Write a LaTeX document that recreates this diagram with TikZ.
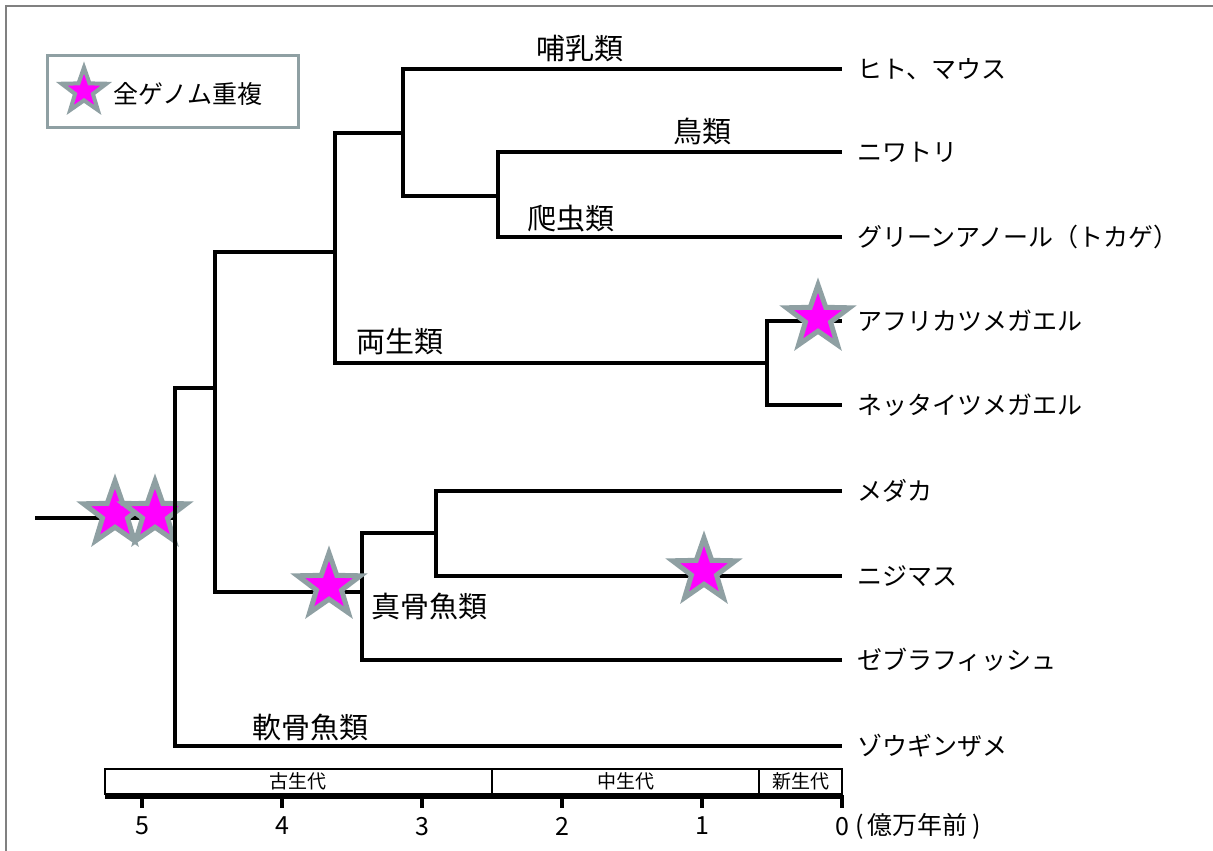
\documentclass[tikz,border=0pt]{standalone}
\usepackage{fontspec}
\newfontfamily\jp{Noto Sans CJK JP}
\usetikzlibrary{shapes.geometric}
\definecolor{wgdfill}{RGB}{255,0,255}
\definecolor{wgdline}{RGB}{143,160,163}
\definecolor{framegray}{RGB}{128,128,128}

\begin{document}
\begin{tikzpicture}[x=1pt,y=-1pt,
  treeline/.style={line width=4pt,line join=miter},
  leaf/.style={anchor=west,inner xsep=15pt,inner ysep=0pt,font=\jp\fontsize{25}{30}\selectfont},
  clade/.style={inner sep=0pt,font=\jp\fontsize{29}{34}\selectfont},
  era/.style={inner sep=0pt,font=\jp\fontsize{19}{23}\selectfont},
  ticklabel/.style={inner sep=0pt,font=\jp\fontsize{25}{30}\selectfont},
  wgd/.style={star,star points=5,star point ratio=2.5,fill=wgdfill,draw=wgdline,
    line width=5pt,inner sep=0pt,minimum size=66pt}]
  \useasboundingbox (0,0) rectangle (1213,851);
  \draw[framegray,line width=2pt] (6,851) -- (6,6) -- (1213,6);

  % legend
  \node[draw=wgdline,line width=3pt,minimum width=251pt,minimum height=72pt,inner sep=0pt] (legend) at (173,91.5) {};
  \node[wgd,line width=4pt,minimum size=47pt] (legendstar) at (84,91) {};
  \node[anchor=west,inner sep=0pt,font=\jp\fontsize{25}{30}\selectfont] (legendtext) at (113,94) {全ゲノム重複};

  % branch points
  \coordinate (stem) at (35,518);
  \coordinate (n1) at (175,518);
  \coordinate (n2) at (215,388);
  \coordinate (n3) at (335,252);
  \coordinate (n4) at (403,133);
  \coordinate (n5) at (498,196);
  \coordinate (n6) at (767,363);
  \coordinate (n7) at (362,592);
  \coordinate (n8) at (436,533);

  % species
  \node[leaf] (human) at (842,69) {ヒト、マウス};
  \node[leaf] (chicken) at (842,152) {ニワトリ};
  \node[leaf] (anole) at (842,237) {グリーンアノール（トカゲ）};
  \node[leaf] (laevis) at (842,321) {アフリカツメガエル};
  \node[leaf] (tropicalis) at (842,405) {ネッタイツメガエル};
  \node[leaf] (medaka) at (842,491) {メダカ};
  \node[leaf] (trout) at (842,576) {ニジマス};
  \node[leaf] (zebrafish) at (842,660) {ゼブラフィッシュ};
  \node[leaf] (shark) at (842,746) {ゾウギンザメ};

  % tree
  \draw[treeline] (stem) -- (n1);
  \node[wgd] (wgdroota) at (115,514) {};
  \node[wgd] (wgdrootb) at (155,514) {};
  \draw[treeline] (n1) |- (n2);
  \draw[treeline] (n1) |- (shark.west);
  \draw[treeline] (n2) |- (n3);
  \draw[treeline] (n2) |- (n7);
  \draw[treeline] (n3) |- (n4);
  \draw[treeline] (n3) |- (n6);
  \draw[treeline] (n4) |- (human.west);
  \draw[treeline] (n4) |- (n5);
  \draw[treeline] (n5) |- (chicken.west);
  \draw[treeline] (n5) |- (anole.west);
  \draw[treeline] (n6) |- (laevis.west);
  \draw[treeline] (n6) |- (tropicalis.west);
  \draw[treeline] (n7) |- (n8);
  \draw[treeline] (n7) |- (zebrafish.west);
  \draw[treeline] (n8) |- (medaka.west);
  \draw[treeline] (n8) |- (trout.west);

  % duplications
  \node[wgd] (wgdfrog) at (818,318) {};
  \node[wgd] (wgdteleost) at (329,586) {};
  \node[wgd] (wgdtrout) at (704,571) {};

  % clade names
  \node[clade] (mammals) at (580,48) {哺乳類};
  \node[clade] (birds) at (702,131) {鳥類};
  \node[clade] (reptiles) at (571,219) {爬虫類};
  \node[clade] (amphibians) at (400,342) {両生類};
  \node[clade] (teleosts) at (429,606) {真骨魚類};
  \node[clade] (cartilage) at (310,727) {軟骨魚類};

  % time scale
  \draw[line width=1.5pt] (105,769) rectangle (842,794);
  \draw[line width=1.5pt] (492,769) -- (492,794);
  \draw[line width=1.5pt] (759,769) -- (759,794);
  \node[era] (paleo) at (298,781) {古生代};
  \node[era] (meso) at (626,781) {中生代};
  \node[era] (ceno) at (801,781) {新生代};
  \draw[line width=4pt] (105,797) -- (844,797);
  \foreach \k in {0,...,5}
    \draw[line width=4pt] (842-140*\k,797) -- (842-140*\k,808)
      node[ticklabel,anchor=north] at (842-140*\k,815) {\k};
  \node[anchor=west,inner sep=0pt,font=\jp\fontsize{25}{30}\selectfont] (unit) at (855,826) {(\kern4pt 億万年前\kern5pt)};
\end{tikzpicture}
\end{document}
